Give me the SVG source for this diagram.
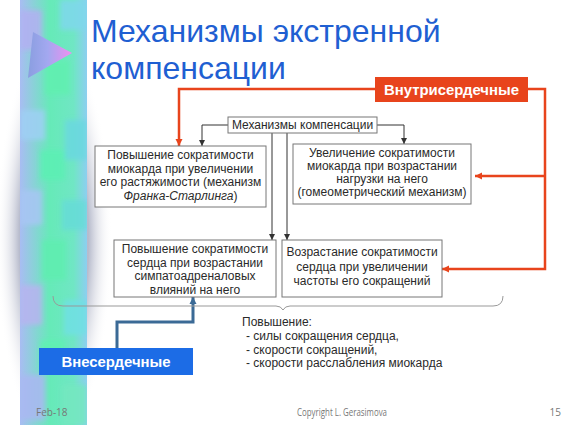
<svg xmlns="http://www.w3.org/2000/svg" width="567" height="425" viewBox="0 0 567 425">
<style>
.t{font-family:"Liberation Sans",Arial,sans-serif;font-size:12px;fill:#2a2a2a;text-anchor:middle}
.l{font-family:"Liberation Sans",Arial,sans-serif;font-size:12px;fill:#2a2a2a}
.box{fill:#fff;stroke:#777;stroke-width:1}
.con{fill:none;stroke:#333;stroke-width:1}
.red{fill:none;stroke:#e8441c;stroke-width:2.5}
.blue{fill:none;stroke:#3b6a96;stroke-width:3}
.lab{font-family:"Liberation Sans",Arial,sans-serif;font-size:14px;font-weight:bold;fill:#fff;text-anchor:middle}
.foot{font-family:"Open Sans","Liberation Sans",sans-serif;font-size:10px;fill:#777}
.title{font-family:"Liberation Sans",Arial,sans-serif;font-size:32px;fill:#1f5fd2}
</style>
<defs>
<marker id="ad" viewBox="0 0 10 10" refX="10" refY="5" markerWidth="6" markerHeight="7" markerUnits="userSpaceOnUse" orient="auto"><path d="M0,0 L10,5 L0,10 z" fill="#333"/></marker>
<marker id="ar" viewBox="0 0 10 10" refX="10" refY="5" markerWidth="7" markerHeight="8" markerUnits="userSpaceOnUse" orient="auto"><path d="M0,0 L10,5 L0,10 z" fill="#e8441c"/></marker>
<marker id="ab" viewBox="0 0 10 10" refX="10" refY="5" markerWidth="7" markerHeight="8" markerUnits="userSpaceOnUse" orient="auto"><path d="M0,0 L10,5 L0,10 z" fill="#3b6a96"/></marker>
<radialGradient id="glow" cx="0.5" cy="0.5" r="0.5">
<stop offset="0" stop-color="#9da2bb"/>
<stop offset="0.6" stop-color="#b8bccd"/>
<stop offset="1" stop-color="#fff" stop-opacity="0"/>
</radialGradient>
<linearGradient id="stripe" x1="0" y1="0" x2="1" y2="0">
<stop offset="0" stop-color="#a8bdf2"/>
<stop offset="0.45" stop-color="#66eab8"/>
<stop offset="0.8" stop-color="#70e6c4"/>
<stop offset="1" stop-color="#8ccff0"/>
</linearGradient>
<linearGradient id="tri" x1="0" y1="0" x2="1" y2="0">
<stop offset="0" stop-color="#8a9ee0"/>
<stop offset="0.45" stop-color="#a3a8f0"/>
<stop offset="1" stop-color="#f08ef0"/>
</linearGradient>
<clipPath id="sc"><rect x="20" y="0" width="67" height="425"/></clipPath>
<filter id="bl" x="-20%" y="-20%" width="140%" height="140%"><feGaussianBlur stdDeviation="2.5"/></filter>
</defs>
<rect width="567" height="425" fill="#fff"/>
<g id="decor">
<ellipse cx="54" cy="240" rx="58" ry="205" fill="url(#glow)"/>
<rect x="20" y="0" width="67" height="425" fill="url(#stripe)"/>
<g clip-path="url(#sc)" filter="url(#bl)" opacity="0.85">
<rect x="20" y="10" width="22" height="40" fill="#b3b0f2"/>
<rect x="60" y="0" width="27" height="30" fill="#7fd8ec"/>
<rect x="45" y="60" width="25" height="35" fill="#60f0b0"/>
<rect x="20" y="110" width="25" height="30" fill="#9fd0f4"/>
<rect x="65" y="120" width="22" height="40" fill="#6ad8e0"/>
<rect x="40" y="150" width="25" height="30" fill="#5cf0b4"/>
<rect x="20" y="190" width="22" height="35" fill="#a8c6f4"/>
<rect x="62" y="200" width="25" height="30" fill="#66dcd8"/>
<rect x="42" y="240" width="24" height="40" fill="#5eeeb0"/>
<rect x="20" y="285" width="22" height="40" fill="#b8b4f0"/>
<rect x="64" y="300" width="23" height="35" fill="#6fe0e4"/>
<rect x="40" y="340" width="25" height="30" fill="#5ef2b2"/>
<rect x="20" y="375" width="25" height="45" fill="#aab8f2"/>
<rect x="62" y="385" width="25" height="40" fill="#74e8c0"/>
</g>
<polygon points="33,32 72,53 28,78" fill="url(#tri)"/>
</g>
<g id="title">
<text class="title" x="91" y="42">Механизмы экстренной</text>
<text class="title" x="91" y="79">компенсации</text>
</g>
<g id="connectors">
<path class="con" d="M228,125 H202 V146" marker-end="url(#ad)"/>
<path class="con" d="M377,125 H404 V144" marker-end="url(#ad)"/>
<path class="con" d="M272,133 V240" marker-end="url(#ad)"/>
<path class="con" d="M287,133 V240" marker-end="url(#ad)"/>
<path class="red" d="M375,89 H179 V146" marker-end="url(#ar)"/>
<path class="red" d="M528,89 H545 V269 H442" marker-end="url(#ar)"/>
<path class="red" d="M545,176 H475" marker-end="url(#ar)"/>
<path class="blue" d="M117,348 V322 H193 V297" marker-end="url(#ab)"/>
<path fill="none" stroke="#999" stroke-width="1" d="M53,296 Q53,306 63,306 H276 Q281,306 283,310 Q285,306 290,306 H493 Q503,306 503,296"/>
</g>
<g id="header">
<rect class="box" x="228" y="117" width="149" height="16"/>
<text class="t" x="302.5" y="129">Механизмы компенсации</text>
</g>
<g id="box1">
<rect class="box" x="95" y="146" width="171" height="61"/>
<text class="t" x="180.5" y="159">Повышение сократимости</text>
<text class="t" x="180.5" y="172.5">миокарда при увеличении</text>
<text class="t" x="180.5" y="186">его растяжимости (механизм</text>
<text class="t" x="180.5" y="199.5"><tspan font-style="italic">Франка-Старлинга</tspan>)</text>
</g>
<g id="box2">
<rect class="box" x="293" y="144" width="178" height="60"/>
<text class="t" x="382" y="157">Увеличение сократимости</text>
<text class="t" x="382" y="170">миокарда при возрастании</text>
<text class="t" x="382" y="183">нагрузки на него</text>
<text class="t" x="382" y="196">(гомеометрический механизм)</text>
</g>
<g id="box3">
<rect class="box" x="114" y="240" width="162" height="57"/>
<text class="t" x="195" y="253">Повышение сократимости</text>
<text class="t" x="195" y="266.5">сердца при возрастании</text>
<text class="t" x="195" y="280">симпатоадреналовых</text>
<text class="t" x="195" y="293.5">влияний на него</text>
</g>
<g id="box4">
<rect class="box" x="282" y="240" width="160" height="57"/>
<text class="t" x="362" y="256">Возрастание сократимости</text>
<text class="t" x="362" y="270.5">сердца при увеличении</text>
<text class="t" x="362" y="285">частоты его сокращений</text>
</g>
<g id="result">
<text class="l" x="242" y="326">Повышение:</text>
<text class="l" x="246" y="340">- силы сокращения сердца,</text>
<text class="l" x="246" y="353.5">- скорости сокращений,</text>
<text class="l" x="246" y="367">- скорости расслабления миокарда</text>
</g>
<g id="intra">
<rect x="375" y="77" width="153" height="25" fill="#e8441c"/>
<text class="lab" x="451.5" y="95" textLength="135" lengthAdjust="spacingAndGlyphs">Внутрисердечные</text>
</g>
<g id="extra">
<rect x="39" y="348" width="154" height="27" fill="#1c6ce6"/>
<text class="lab" x="116" y="367" textLength="109" lengthAdjust="spacingAndGlyphs">Внесердечные</text>
</g>
<g id="footer">
<text class="foot" x="36" y="416">Feb-18</text>
<text class="foot" x="342" y="416" text-anchor="middle" textLength="90" lengthAdjust="spacingAndGlyphs">Copyright L. Gerasimova</text>
<text class="foot" x="561" y="416" text-anchor="end">15</text>
</g>
</svg>
